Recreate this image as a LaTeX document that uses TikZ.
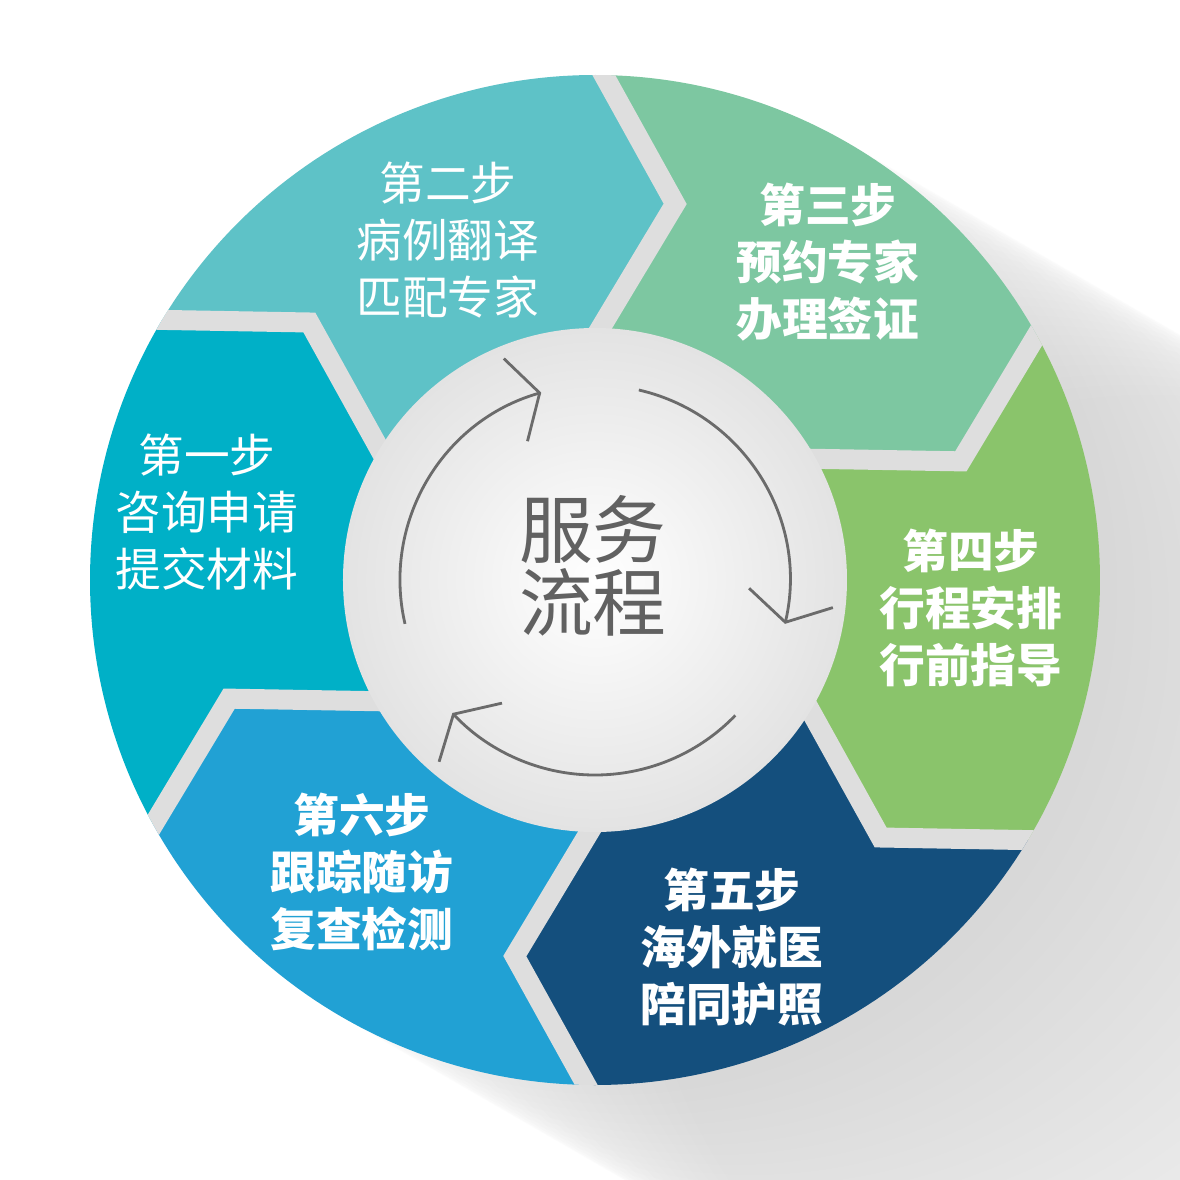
\documentclass[tikz,border=0pt]{standalone}
\usepackage{fontspec}
\usepackage{xcolor}
\usepackage{tikz}
\usetikzlibrary{arrows.meta, calc, positioning}
\newfontfamily\cjk{Noto Sans CJK SC}
\definecolor{stepone}{rgb}{0.00, 0.69, 0.78}
\definecolor{steptwo}{rgb}{0.37, 0.76, 0.78}
\definecolor{stepthree}{rgb}{0.49, 0.78, 0.63}
\definecolor{stepfour}{rgb}{0.54, 0.77, 0.42}
\definecolor{stepfive}{rgb}{0.08, 0.31, 0.49}
\definecolor{stepsix}{rgb}{0.13, 0.63, 0.83}
\definecolor{gapgray}{rgb}{0.87, 0.87, 0.87}
\definecolor{arrowgray}{rgb}{0.42, 0.42, 0.42}
\definecolor{titlegray}{rgb}{0.38, 0.38, 0.38}
\tikzstyle{steptext} = [text=white, align=center, font=\cjk\fontsize{13}{16.3}\selectfont]
\tikzstyle{boldstep} = [steptext, font=\cjk\bfseries\fontsize{13}{16.3}\selectfont]
\tikzstyle{gap} = [line width=2mm, draw=gapgray, line join=miter]
\tikzstyle{cyclearrow} = [line width=0.8pt, draw=arrowgray, -{Straight Barb[length=2.5mm, width=8.6mm]}]

\newcommand{\ringseg}[2]{%
  \fill[#2] (#1:5.05) -- ($(#1:2.5)+(#1-30:1.472)$) -- (#1:2.5)
    arc[start angle=#1, end angle=#1-60, radius=2.5]
    -- ($(#1-60:2.5)+(#1-90:1.472)$) -- (#1-60:5.05)
    arc[start angle=#1-60, end angle=#1, radius=5.05] -- cycle;}

\begin{document}
\begin{tikzpicture}
    \useasboundingbox (-5.95,-6.0) rectangle (5.85,5.8);
    \begin{scope}
        \clip (-5.95,-6.0) rectangle (5.85,5.8);
        \foreach \k in {1,...,32}
            \fill[black!50, opacity=0.011] (-30:\k*0.2) circle (5.05);
    \end{scope}
    \ringseg{209}{stepone}
    \ringseg{149}{steptwo}
    \ringseg{89}{stepthree}
    \ringseg{29}{stepfour}
    \ringseg{-31}{stepfive}
    \ringseg{-91}{stepsix}
    \begin{scope}
        \clip (0,0) circle (5.05);
        \foreach \a in {209,149,89,29,-31,-91} {
            \coordinate (tip) at ($(\a:2.5)+(\a-30:1.472)$);
            \draw[gap] ($(tip)!1.3!(\a:5.05)$) -- (tip) -- ($(tip)!1.3!(\a:2.5)$);
        }
    \end{scope}
    \shade[inner color=white, outer color=gray!22] (0,0) circle (2.52);
    \draw[cyclearrow] (193:1.95) arc[start angle=193, end angle=106, radius=1.95];
    \draw[cyclearrow] (77:1.95) arc[start angle=77, end angle=-13, radius=1.95];
    \draw[cyclearrow] (-44:1.95) arc[start angle=-44, end angle=-137, radius=1.95];
    \node[steptext] (step1) at (-3.88,0.68) {第一步\\咨询申请\\提交材料};
    \node[steptext] (step2) at (-1.47,3.40) {第二步\\病例翻译\\匹配专家};
    \node[boldstep] (step3) at (2.33,3.18) {第三步\\预约专家\\办理签证};
    \node[boldstep] (step4) at (3.76,-0.28) {第四步\\行程安排\\行前指导};
    \node[boldstep] (step5) at (1.37,-3.67) {第五步\\海外就医\\陪同护照};
    \node[boldstep] (step6) at (-2.33,-2.92) {第六步\\跟踪随访\\复查检测};
    \node[text=titlegray, align=center, font=\cjk\fontsize{21}{20.7}\selectfont] (title) at (-0.02,0.14) {服务\\流程};
\end{tikzpicture}
\end{document}
